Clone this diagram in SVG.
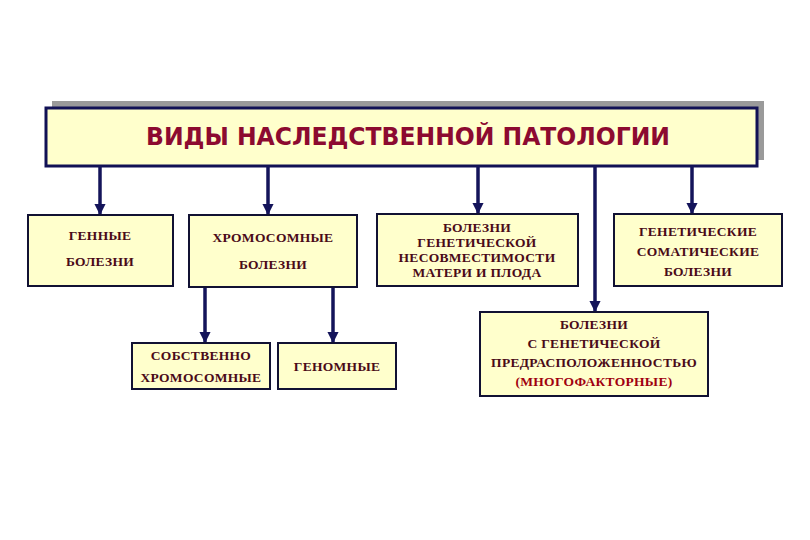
<svg xmlns="http://www.w3.org/2000/svg" width="810" height="540" viewBox="0 0 810 540">
<defs>
<marker id="ah" viewBox="0 0 10 10" refX="9" refY="5" markerWidth="3.2" markerHeight="3.2" orient="auto" markerUnits="strokeWidth">
<path d="M0,0 L10,5 L0,10 z" fill="#14145a"/>
</marker>
</defs>
<style>
.box{fill:#ffffcc;stroke:#111133;stroke-width:2}
.t{font-family:"Liberation Serif","Times New Roman",serif;font-weight:bold;font-size:13.5px;letter-spacing:0.3px;fill:#4a0a18;text-anchor:middle}
.c{stroke:#14145a;stroke-width:3.5;fill:none;marker-end:url(#ah)}
</style>
<rect width="810" height="540" fill="#ffffff"/>
<g id="title">
<rect x="52" y="101" width="712" height="59" fill="#9a9a9a"/>
<rect x="46" y="108" width="711" height="58" fill="#ffffcc" stroke="#111155" stroke-width="3"/>
<text x="408" y="145" font-family="'DejaVu Sans Condensed','Liberation Sans',sans-serif" font-weight="bold" font-size="24" fill="#8c0a30" text-anchor="middle" textLength="524" lengthAdjust="spacingAndGlyphs">ВИДЫ  НАСЛЕДСТВЕННОЙ ПАТОЛОГИИ</text>
</g>
<g id="connectors">
<line class="c" x1="100" y1="166" x2="100" y2="214"/>
<line class="c" x1="268" y1="166" x2="268" y2="214"/>
<line class="c" x1="478" y1="166" x2="478" y2="213"/>
<line class="c" x1="595" y1="166" x2="595" y2="311"/>
<line class="c" x1="692" y1="166" x2="692" y2="213"/>
<line class="c" x1="205" y1="287" x2="205" y2="342"/>
<line class="c" x1="333" y1="287" x2="333" y2="342"/>
</g>
<g id="n1">
<rect class="box" x="28" y="215" width="145" height="71"/>
<text class="t" x="100" y="240">ГЕННЫЕ</text>
<text class="t" x="100" y="266">БОЛЕЗНИ</text>
</g>
<g id="n2">
<rect class="box" x="189" y="215" width="168" height="72"/>
<text class="t" x="273" y="242">ХРОМОСОМНЫЕ</text>
<text class="t" x="273" y="269">БОЛЕЗНИ</text>
</g>
<g id="n3">
<rect class="box" x="377" y="214" width="201" height="72"/>
<text class="t" x="477" y="232">БОЛЕЗНИ</text>
<text class="t" x="477" y="247">ГЕНЕТИЧЕСКОЙ</text>
<text class="t" x="477" y="262">НЕСОВМЕСТИМОСТИ</text>
<text class="t" x="477" y="277">МАТЕРИ  И  ПЛОДА</text>
</g>
<g id="n4">
<rect class="box" x="614" y="214" width="168" height="72"/>
<text class="t" x="698" y="236">ГЕНЕТИЧЕСКИЕ</text>
<text class="t" x="698" y="256">СОМАТИЧЕСКИЕ</text>
<text class="t" x="698" y="276">БОЛЕЗНИ</text>
</g>
<g id="n5">
<rect class="box" x="132" y="343" width="138" height="46"/>
<text class="t" x="201" y="360">СОБСТВЕННО</text>
<text class="t" x="201" y="382">ХРОМОСОМНЫЕ</text>
</g>
<g id="n6">
<rect class="box" x="278" y="343" width="118" height="46"/>
<text class="t" x="337" y="371">ГЕНОМНЫЕ</text>
</g>
<g id="n7">
<rect class="box" x="480" y="312" width="228" height="84"/>
<text class="t" x="594" y="329">БОЛЕЗНИ</text>
<text class="t" x="594" y="348">С ГЕНЕТИЧЕСКОЙ</text>
<text class="t" x="594" y="367">ПРЕДРАСПОЛОЖЕННОСТЬЮ</text>
<text class="t" x="594" y="386" style="fill:#a00010">(МНОГОФАКТОРНЫЕ)</text>
</g>
</svg>
